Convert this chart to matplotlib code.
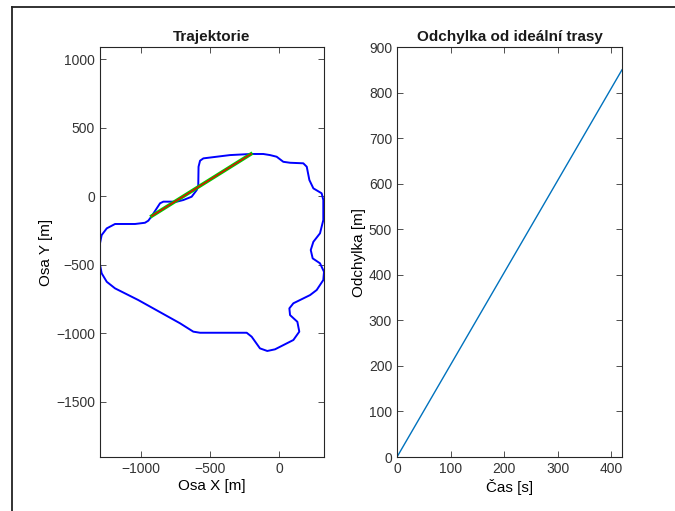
import numpy as np
import matplotlib.pyplot as plt
from matplotlib.lines import Line2D

plt.rcParams['font.family'] = ['Liberation Sans', 'DejaVu Sans']

# trajectory [m]
traj_x = [-922, -947, -971, -1043, -1188, -1248, -1285, -1297, -1299, -1285, -1248, -1188,
          -1020, -717, -621, -572, -234, -198, -138, -85, -29, 104, 147, 133, 80, 75, 104,
          225, 273, 321, 326, 297, 244, 230, 249, 297, 321, 321, 309, 249, 220, 201, 176,
          80, 31, -17, -65, -114, -203, -355, -548, -572, -583, -585, -596, -633, -693,
          -741, -838, -862, -886, -922]
traj_y = [-146, -180, -195, -204, -204, -236, -285, -345, -491, -564, -626, -674,
          -759, -929, -990, -998, -998, -1027, -1112, -1131, -1119, -1051, -990, -918, -869, -820, -783,
          -723, -686, -613, -553, -491, -455, -394, -334, -272, -175, -29, 20, 56, 117, 214, 239,
          243, 250, 287, 299, 307, 307, 299, 275, 258, 214, 80, 44, -5, -29,
          -41, -41, -53, -90, -146]

# ideal straight route
ideal_x = [-922, -203]
ideal_y = [-146, 307]

# deviation over time
cas = [0, 420]
odchylka = [0, 850]

fig = plt.figure(figsize=(6.75, 5.11), dpi=100)
W, H = 675, 511

def px_axes(x0, y0, x1, y1):
    return fig.add_axes([x0 / W, 1 - y1 / H, (x1 - x0) / W, (y1 - y0) / H])

ax1 = px_axes(100, 47, 324, 457)
ax2 = px_axes(397, 47, 622, 457)

ax1.plot(traj_x, traj_y, color='#0000ff', lw=1.4, solid_joinstyle='round')
ax1.plot(ideal_x, ideal_y, color='#00cc00', lw=2.6)
ax1.plot(ideal_x, ideal_y, color='#ee0000', lw=1.0)
ax1.set_xlim(-1297, 326)
ax1.set_ylim(-1905, 1088)
ax1.set_xticks([-1000, -500, 0])
ax1.set_yticks([-1500, -1000, -500, 0, 500, 1000])
ax1.set_title('Trajektorie', fontsize=11, fontweight='bold', pad=4)
ax1.set_xlabel('Osa X [m]', fontsize=11, labelpad=2)
ax1.set_ylabel('Osa Y [m]', fontsize=11, labelpad=2)

ax2.plot(cas, odchylka, color='#0072bd', lw=1.0)
ax2.set_xlim(0, 420)
ax2.set_ylim(0, 900)
ax2.set_xticks([0, 100, 200, 300, 400])
ax2.set_yticks(np.arange(0, 901, 100))
ax2.set_title('Odchylka od ideální trasy', fontsize=11, fontweight='bold', pad=4)
ax2.set_xlabel('Čas [s]', fontsize=11, labelpad=2)
ax2.set_ylabel('Odchylka [m]', fontsize=11, labelpad=2)

for ax in (ax1, ax2):
    ax.tick_params(direction='in', top=True, right=True, labelsize=10,
                   colors='#333333', length=4, width=0.6)
    ax.title.set_color('#1a1a1a')
    for s in ax.spines.values():
        s.set_color('#262626')
        s.set_linewidth(0.8)

# window frame
fig.add_artist(Line2D([12 / W, 1], [1 - 7.5 / H, 1 - 7.5 / H], color='#222222', lw=1.3))
fig.add_artist(Line2D([12 / W, 12 / W], [0, 1 - 7.5 / H], color='#222222', lw=1.3))

plt.savefig('out.png', dpi=100)
